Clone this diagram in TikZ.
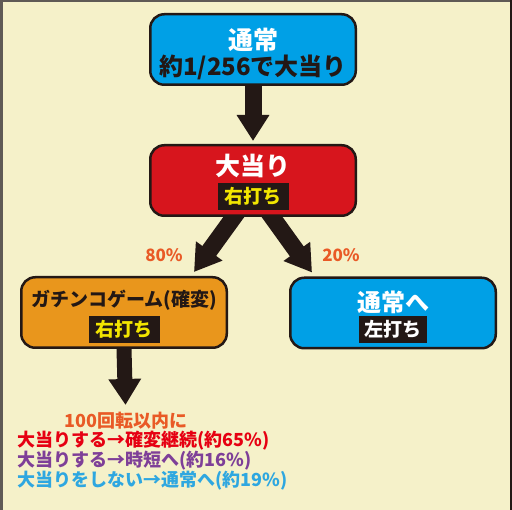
\documentclass[tikz,border=0pt]{standalone}
\usepackage{fontspec}
\setmainfont{Noto Sans CJK JP}
\usetikzlibrary{arrows.meta,backgrounds}

\definecolor{paper}{HTML}{F5F1C9}
\definecolor{ink}{HTML}{231815}
\definecolor{framegray}{HTML}{5F5A55}
\definecolor{skyblue}{HTML}{00A0E6}
\definecolor{hitred}{HTML}{D7151D}
\definecolor{gachiorange}{HTML}{E9961C}
\definecolor{tagyellow}{HTML}{F2E500}
\definecolor{pctorange}{HTML}{E95A26}
\definecolor{linered}{HTML}{E60012}
\definecolor{linepurple}{HTML}{7E3F98}
\definecolor{lineblue}{HTML}{2EA7E0}

\tikzset{
	box/.style={draw=ink, line width=2.5pt, rounded corners=14pt, minimum width=205.5pt, minimum height=70.5pt, inner sep=0pt},
	title/.style={text=white, inner sep=0pt, font=\fontsize{25}{25}\selectfont\bfseries},
	tag/.style={fill=ink, minimum width=71pt, minimum height=27pt, inner sep=0pt, font=\fontsize{19}{19}\selectfont\bfseries},
	pct/.style={text=pctorange, font=\fontsize{17}{17}\selectfont\bfseries},
	note/.style={inner sep=0pt, font=\fontsize{18}{18}\selectfont\bfseries},
	bigarrow/.style={draw=ink, line width=17pt, -{Triangle[width=31pt,length=26pt]}}
}

\begin{document}
\begin{tikzpicture}[x=1pt,y=-1pt]
	\useasboundingbox (0,0) rectangle (512,510);
	
	\node[box, fill=skyblue] (normal) at (253,49.5) {};
	\node[title] (normaltitle) at ([yshift=10pt]normal.center) {通常};
	\node[title, text=ink, font=\fontsize{24}{24}\selectfont\bfseries] (odds) at ([yshift=-18pt]normal.center) {約1/256で大当り};
	
	\node[box, fill=hitred] (hit) at (253,180.5) {};
	\node[title] (hittitle) at ([yshift=15pt]hit.center) {大当り};
	\node[tag, text=tagyellow] (hittag) at ([yshift=-16pt]hit.center) {右打ち};
	
	\node[box, fill=gachiorange] (gachi) at (124,312.5) {};
	\node[title, text=ink, font=\fontsize{19}{19}\selectfont\bfseries] (gachititle) at ([yshift=12pt]gachi.center) {ガチンコゲーム(確変)};
	\node[tag, text=tagyellow] (gachitag) at ([yshift=-17pt]gachi.center) {右打ち};
	
	\node[box, fill=skyblue] (back) at (393,313) {};
	\node[title, font=\fontsize{24}{24}\selectfont\bfseries] (backtitle) at ([yshift=11pt]back.center) {通常へ};
	\node[tag, text=white, minimum width=68pt] (backtag) at ([yshift=-16.5pt]back.center) {左打ち};
	
	\node[pct] (leftpct) at (164,255) {80\%};
	\node[pct] (rightpct) at (341,255) {20\%};
	
	\coordinate (gachiout) at ([xshift=1.5pt,yshift=-56pt]gachi.south);
	\node[note, text=pctorange] (count) at (126,421) {100回転以内に};
	\node[note, anchor=west, align=left] (result) at (17,461) {\color{linered}大当りする→確変継続(約65\%)\\\color{linepurple}大当りする→時短へ(約16\%)\\\color{lineblue}大当りをしない→通常へ(約19\%)};
	
	\begin{scope}[on background layer]
		\fill[paper] (0,0) rectangle (512,510);
		\draw[bigarrow] (normal.south) -- ([yshift=3pt]hit.north);
		\draw[bigarrow] ([yshift=-10pt]hit.center) -- ([xshift=-34pt,yshift=4pt]gachi.north east);
		\draw[bigarrow] ([yshift=-10pt]hit.center) -- ([xshift=23pt,yshift=4pt]back.north west);
		\draw[bigarrow, line width=15pt] (gachi.south) -- (gachiout);
	\end{scope}
	
	\draw[framegray, line width=2.5pt] (1.25,510) -- (1.25,1.25) -- (512,1.25);
	\draw[ink, line width=2pt] (511,0) -- (511,510);
\end{tikzpicture}
\end{document}
